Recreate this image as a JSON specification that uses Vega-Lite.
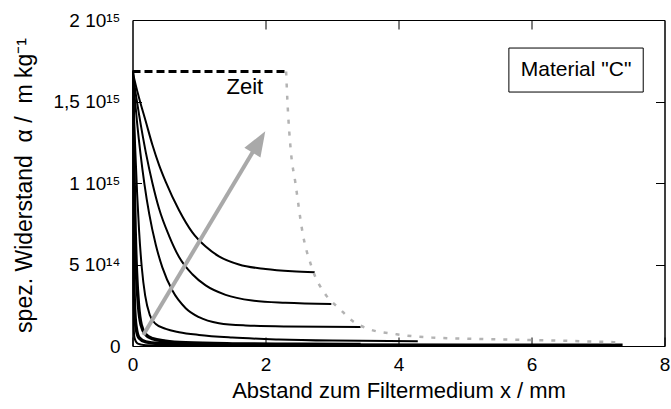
{
  "$schema": "https://vega.github.io/schema/vega-lite/v6.json",
  "width": 532,
  "height": 326,
  "autosize": {"type": "none"},
  "padding": {"left": 132.5, "top": 20, "right": 6.5, "bottom": 63},
  "background": "white",
  "config": {
    "font": "Liberation Sans",
    "view": {"stroke": "black", "strokeWidth": 1},
    "axis": {"domainColor": "black", "tickColor": "black", "labelColor": "black", "titleColor": "black", "titleFontWeight": "normal", "grid": false, "labelFont": "Liberation Sans", "titleFont": "Liberation Sans"}
  },
  "datasets": {
    "curves": [
      {"s": "c1", "x": 0, "y": 1.684e15}, {"s": "c1", "x": 0.05, "y": 1.599e15}, {"s": "c1", "x": 0.1, "y": 1.52e15}, {"s": "c1", "x": 0.2, "y": 1.377e15}, {"s": "c1", "x": 0.3, "y": 1.233e15}, {"s": "c1", "x": 0.4, "y": 1.11e15}, {"s": "c1", "x": 0.5, "y": 1.007e15}, {"s": "c1", "x": 0.7, "y": 0.833e15}, {"s": "c1", "x": 0.9, "y": 0.697e15}, {"s": "c1", "x": 1.1, "y": 0.61e15}, {"s": "c1", "x": 1.3, "y": 0.55e15}, {"s": "c1", "x": 1.6, "y": 0.5e15}, {"s": "c1", "x": 2.0, "y": 0.472e15}, {"s": "c1", "x": 2.4, "y": 0.458e15}, {"s": "c1", "x": 2.74, "y": 0.452e15},
      {"s": "c2", "x": 0, "y": 1.684e15}, {"s": "c2", "x": 0.05, "y": 1.543e15}, {"s": "c2", "x": 0.1, "y": 1.416e15}, {"s": "c2", "x": 0.2, "y": 1.188e15}, {"s": "c2", "x": 0.3, "y": 0.999e15}, {"s": "c2", "x": 0.4, "y": 0.842e15}, {"s": "c2", "x": 0.55, "y": 0.676e15}, {"s": "c2", "x": 0.7, "y": 0.546e15}, {"s": "c2", "x": 0.9, "y": 0.44e15}, {"s": "c2", "x": 1.1, "y": 0.372e15}, {"s": "c2", "x": 1.4, "y": 0.314e15}, {"s": "c2", "x": 1.8, "y": 0.279e15}, {"s": "c2", "x": 2.3, "y": 0.265e15}, {"s": "c2", "x": 2.99, "y": 0.258e15},
      {"s": "c3", "x": 0, "y": 1.684e15}, {"s": "c3", "x": 0.03, "y": 1.54e15}, {"s": "c3", "x": 0.07, "y": 1.366e15}, {"s": "c3", "x": 0.12, "y": 1.18e15}, {"s": "c3", "x": 0.18, "y": 0.992e15}, {"s": "c3", "x": 0.25, "y": 0.814e15}, {"s": "c3", "x": 0.35, "y": 0.621e15}, {"s": "c3", "x": 0.45, "y": 0.481e15}, {"s": "c3", "x": 0.6, "y": 0.34e15}, {"s": "c3", "x": 0.8, "y": 0.232e15}, {"s": "c3", "x": 1.0, "y": 0.177e15}, {"s": "c3", "x": 1.3, "y": 0.14e15}, {"s": "c3", "x": 1.7, "y": 0.126e15}, {"s": "c3", "x": 2.3, "y": 0.12e15}, {"s": "c3", "x": 3.43, "y": 0.117e15},
      {"s": "c4", "x": 0, "y": 1.684e15}, {"s": "c4", "x": 0.02, "y": 1.45e15}, {"s": "c4", "x": 0.04, "y": 1.22e15}, {"s": "c4", "x": 0.07, "y": 0.93e15}, {"s": "c4", "x": 0.1, "y": 0.7e15}, {"s": "c4", "x": 0.14, "y": 0.48e15}, {"s": "c4", "x": 0.19, "y": 0.31e15}, {"s": "c4", "x": 0.26, "y": 0.19e15}, {"s": "c4", "x": 0.35, "y": 0.135e15}, {"s": "c4", "x": 0.5, "y": 0.105e15}, {"s": "c4", "x": 0.7, "y": 0.085e15}, {"s": "c4", "x": 1.0, "y": 0.068e15}, {"s": "c4", "x": 1.5, "y": 0.052e15}, {"s": "c4", "x": 2.2, "y": 0.04e15}, {"s": "c4", "x": 3.0, "y": 0.033e15}, {"s": "c4", "x": 4.29, "y": 0.029e15},
      {"s": "c7", "x": 0, "y": 1.684e15}, {"s": "c7", "x": 0.003, "y": 1.0e15}, {"s": "c7", "x": 0.008, "y": 0.4e15}, {"s": "c7", "x": 0.015, "y": 0.15e15}, {"s": "c7", "x": 0.03, "y": 0.05e15}, {"s": "c7", "x": 0.08, "y": 0.015e15}, {"s": "c7", "x": 0.2, "y": 0.005e15}, {"s": "c7", "x": 0.5, "y": 0.002e15}, {"s": "c7", "x": 2.7, "y": 0.001e15}
    ],
    "thick": [
      {"s": "c5", "x": 0, "y": 1.684e15}, {"s": "c5", "x": 0.01, "y": 1.4e15}, {"s": "c5", "x": 0.025, "y": 1.0e15}, {"s": "c5", "x": 0.04, "y": 0.7e15}, {"s": "c5", "x": 0.06, "y": 0.45e15}, {"s": "c5", "x": 0.09, "y": 0.25e15}, {"s": "c5", "x": 0.13, "y": 0.13e15}, {"s": "c5", "x": 0.2, "y": 0.07e15}, {"s": "c5", "x": 0.3, "y": 0.045e15}, {"s": "c5", "x": 0.5, "y": 0.03e15}, {"s": "c5", "x": 0.8, "y": 0.02e15}, {"s": "c5", "x": 1.5, "y": 0.013e15}, {"s": "c5", "x": 2.5, "y": 0.01e15}, {"s": "c5", "x": 3.43, "y": 0.009e15},
      {"s": "c6", "x": 0, "y": 1.684e15}, {"s": "c6", "x": 0.005, "y": 1.2e15}, {"s": "c6", "x": 0.012, "y": 0.7e15}, {"s": "c6", "x": 0.02, "y": 0.4e15}, {"s": "c6", "x": 0.035, "y": 0.2e15}, {"s": "c6", "x": 0.06, "y": 0.1e15}, {"s": "c6", "x": 0.1, "y": 0.05e15}, {"s": "c6", "x": 0.2, "y": 0.025e15}, {"s": "c6", "x": 0.4, "y": 0.015e15}, {"s": "c6", "x": 1.0, "y": 0.009e15}, {"s": "c6", "x": 2.7, "y": 0.006e15}, {"s": "c6", "x": 7.37, "y": 0.005e15}
    ],
    "dash": [{"x": 0, "y": 1.684e15}, {"x": 2.31, "y": 1.684e15}],
    "dotted": [
      {"x": 2.31, "y": 1.684e15}, {"x": 2.33, "y": 1.5e15}, {"x": 2.38, "y": 1.2e15}, {"x": 2.45, "y": 1.0e15}, {"x": 2.56, "y": 0.69e15}, {"x": 2.69, "y": 0.49e15}, {"x": 2.92, "y": 0.306e15}, {"x": 3.11, "y": 0.23e15}, {"x": 3.31, "y": 0.153e15}, {"x": 3.54, "y": 0.106e15}, {"x": 3.97, "y": 0.072e15}, {"x": 4.5, "y": 0.052e15}, {"x": 5.0, "y": 0.045e15}, {"x": 6.0, "y": 0.037e15}, {"x": 7.37, "y": 0.022e15}
    ],
    "arrow": [{"x": 0.162, "y": 0.067e15, "x2": 1.9, "y2": 1.252e15}],
    "head": [{"x": 1.9, "y": 1.252e15}],
    "box": [{"x": 5.66, "x2": 7.68, "y": 1.558e15, "y2": 1.828e15}],
    "boxlabel": [{"x": 6.67, "y": 1.693e15, "t": "Material \"C\""}],
    "zeit": [{"x": 1.69, "y": 1.589e15, "t": "Zeit"}]
  },
  "resolve": {"scale": {"x": "independent", "y": "independent"}},
  "layer": [
    {
      "data": {"name": "curves"},
      "mark": {"type": "line", "color": "black", "strokeWidth": 2, "interpolate": "monotone", "clip": true},
      "encoding": {
        "x": {"field": "x", "type": "quantitative", "scale": {"domain": [0, 8], "nice": false},
          "axis": {"orient": "bottom", "values": [0, 2, 4, 6, 8], "tickSize": -9, "labelPadding": 18, "labelFontSize": 19, "labelFlush": false,
            "title": "Abstand zum Filtermedium x / mm", "titleFontSize": 22, "titleX": 266, "titleY": 34, "titleBaseline": "top", "titleAnchor": null}},
        "y": {"field": "y", "type": "quantitative", "scale": {"domain": [0, 2e15], "nice": false},
          "axis": {"orient": "left", "values": [0, 5e14, 1e15, 1.5e15, 2e15], "tickSize": -9, "labelPadding": 21.5, "labelFontSize": 19, "labelFlush": false,
            "labelExpr": "datum.value == 0 ? '0' : datum.value == 5e14 ? '5 10\u00b9\u2074' : datum.value == 1e15 ? '1 10\u00b9\u2075' : datum.value == 1.5e15 ? '1,5 10\u00b9\u2075' : '2 10\u00b9\u2075'",
            "title": "spez. Widerstand \u00a0\u03b1 / \u00a0m kg\u207b\u00b9", "titleFontSize": 23, "titleX": -108, "titleY": 165, "titleBaseline": "middle", "titleAngle": -90}},
        "detail": {"field": "s"}
      }
    },
    {
      "data": {"name": "thick"},
      "mark": {"type": "line", "color": "black", "strokeWidth": 3.5, "interpolate": "monotone", "clip": true},
      "encoding": {
        "x": {"field": "x", "type": "quantitative", "scale": {"domain": [0, 8], "nice": false}, "axis": null},
        "y": {"field": "y", "type": "quantitative", "scale": {"domain": [0, 2e15], "nice": false}, "axis": null},
        "detail": {"field": "s"}
      }
    },
    {
      "data": {"name": "dash"},
      "mark": {"type": "line", "color": "black", "strokeWidth": 3, "strokeDash": [8, 4]},
      "encoding": {
        "x": {"field": "x", "type": "quantitative", "scale": {"domain": [0, 8], "nice": false},
          "axis": {"orient": "top", "values": [2, 4, 6], "tickSize": -9, "labels": false, "title": null}},
        "y": {"field": "y", "type": "quantitative", "scale": {"domain": [0, 2e15], "nice": false},
          "axis": {"orient": "right", "values": [5e14, 1e15, 1.5e15], "tickSize": -9, "labels": false, "title": null}}
      }
    },
    {
      "data": {"name": "dotted"},
      "mark": {"type": "line", "color": "#b3b3b3", "strokeWidth": 2.5, "strokeDash": [4, 8], "interpolate": "monotone"},
      "encoding": {
        "x": {"field": "x", "type": "quantitative", "scale": {"domain": [0, 8], "nice": false}, "axis": null},
        "y": {"field": "y", "type": "quantitative", "scale": {"domain": [0, 2e15], "nice": false}, "axis": null}
      }
    },
    {
      "data": {"name": "arrow"},
      "mark": {"type": "rule", "color": "#a9a9a9", "strokeWidth": 4},
      "encoding": {
        "x": {"field": "x", "type": "quantitative", "scale": {"domain": [0, 8], "nice": false}, "axis": null},
        "y": {"field": "y", "type": "quantitative", "scale": {"domain": [0, 2e15], "nice": false}, "axis": null},
        "x2": {"field": "x2"},
        "y2": {"field": "y2"}
      }
    },
    {
      "data": {"name": "head"},
      "mark": {"type": "point", "shape": "M0,-1L0.75,1L-0.75,1Z", "size": 625, "angle": 31, "filled": true, "color": "#a9a9a9", "opacity": 1},
      "encoding": {
        "x": {"field": "x", "type": "quantitative", "scale": {"domain": [0, 8], "nice": false}, "axis": null},
        "y": {"field": "y", "type": "quantitative", "scale": {"domain": [0, 2e15], "nice": false}, "axis": null}
      }
    },
    {
      "data": {"name": "box"},
      "mark": {"type": "rect", "fill": "white", "stroke": "black", "strokeWidth": 1},
      "encoding": {
        "x": {"field": "x", "type": "quantitative", "scale": {"domain": [0, 8], "nice": false}, "axis": null},
        "y": {"field": "y", "type": "quantitative", "scale": {"domain": [0, 2e15], "nice": false}, "axis": null},
        "x2": {"field": "x2"},
        "y2": {"field": "y2"}
      }
    },
    {
      "data": {"name": "boxlabel"},
      "mark": {"type": "text", "fontSize": 21, "color": "black", "align": "center", "baseline": "middle"},
      "encoding": {
        "x": {"field": "x", "type": "quantitative", "scale": {"domain": [0, 8], "nice": false}, "axis": null},
        "y": {"field": "y", "type": "quantitative", "scale": {"domain": [0, 2e15], "nice": false}, "axis": null},
        "text": {"field": "t"}
      }
    },
    {
      "data": {"name": "zeit"},
      "mark": {"type": "text", "fontSize": 22, "color": "black", "align": "center", "baseline": "middle"},
      "encoding": {
        "x": {"field": "x", "type": "quantitative", "scale": {"domain": [0, 8], "nice": false}, "axis": null},
        "y": {"field": "y", "type": "quantitative", "scale": {"domain": [0, 2e15], "nice": false}, "axis": null},
        "text": {"field": "t"}
      }
    }
  ]
}
